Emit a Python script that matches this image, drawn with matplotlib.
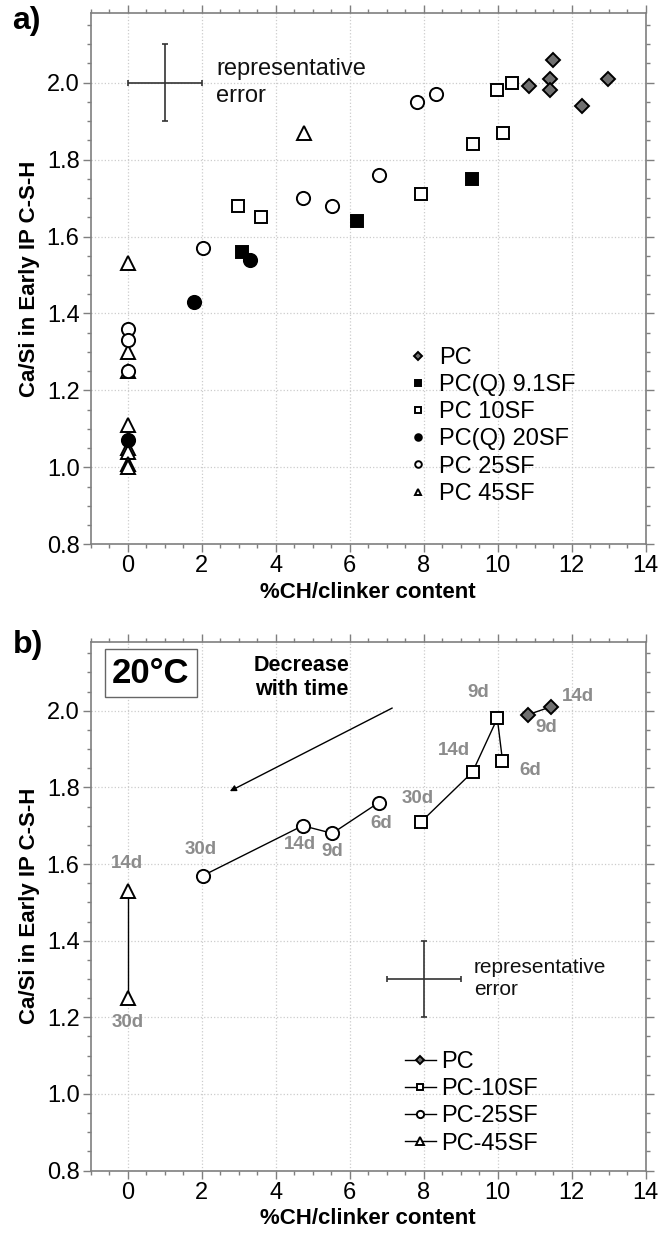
import matplotlib
matplotlib.use("Agg")
import matplotlib.pyplot as plt
from matplotlib.ticker import MultipleLocator, FormatStrFormatter

plt.rcParams['font.family'] = ['Liberation Sans', 'DejaVu Sans']

# ==== panel a data: %CH/clinker vs Ca/Si
pc_x = [11.49, 11.41, 11.41, 10.84, 12.29, 12.98]
pc_y = [2.06, 2.01, 1.98, 1.99, 1.94, 2.01]
pcq91_x = [3.10, 6.19, 9.30]
pcq91_y = [1.56, 1.64, 1.75]
pc10_x = [2.99, 3.59, 7.93, 9.34, 10.14, 9.98, 10.38]
pc10_y = [1.68, 1.65, 1.71, 1.84, 1.87, 1.98, 2.00]
pcq20_x = [0.0, 1.80, 3.31]
pcq20_y = [1.07, 1.43, 1.54]
pc25_x = [0.0, 0.0, 0.0, 2.04, 4.73, 5.53, 6.79, 7.82, 8.33]
pc25_y = [1.36, 1.33, 1.25, 1.57, 1.70, 1.68, 1.76, 1.95, 1.97]
pc45_x = [0.0, 0.0, 0.0, 0.0, 0.0, 0.0, 0.0, 0.0, 4.77]
pc45_y = [1.53, 1.30, 1.25, 1.11, 1.05, 1.04, 1.01, 1.00, 1.87]

# ==== panel b data: 20C time series
b_pc_x = [11.43, 10.83]
b_pc_y = [2.01, 1.99]
b_pc_lab = ["14d", "9d"]
b_pc10_x = [10.13, 9.99, 9.32, 7.93]
b_pc10_y = [1.87, 1.98, 1.84, 1.71]
b_pc10_lab = ["6d", "9d", "14d", "30d"]
b_pc25_x = [6.78, 5.53, 4.73, 2.04]
b_pc25_y = [1.76, 1.68, 1.70, 1.57]
b_pc25_lab = ["6d", "9d", "14d", "30d"]
b_pc45_x = [0.0, 0.0]
b_pc45_y = [1.53, 1.25]
b_pc45_lab = ["14d", "30d"]

# representative error bars (center x, center y, err x, err y)
err_a = (1.0, 2.0, 1.0, 0.1)
err_b = (8.0, 1.3, 1.0, 0.1)

# label offsets in pixels (dx, dy) for the day annotations
off_pc = [(27, 10), (18, -13)]
off_pc10 = [(28, -10), (-19, 26), (-19, 22), (-3, 23)]
off_pc25 = [(3, -21), (0, -18), (-3, -19), (-2, 26)]
off_pc45 = [(-1, 27), (0, -24)]

spine_col = "#7f7f7f"
day_col = "#8c8c8c"
grey_face = "#707070"


def style_axes(ax):
    ax.set_xlim(-1, 14)
    ax.set_ylim(0.8, 2.18)
    ax.xaxis.set_major_locator(MultipleLocator(2))
    ax.xaxis.set_minor_locator(MultipleLocator(0.5))
    ax.yaxis.set_major_locator(MultipleLocator(0.2))
    ax.yaxis.set_minor_locator(MultipleLocator(0.05))
    ax.yaxis.set_major_formatter(FormatStrFormatter("%.1f"))
    ax.tick_params(which="both", direction="out", top=True, right=True,
                   color=spine_col, labelsize=17, pad=2.5)
    ax.tick_params(which="major", length=5.5, width=1)
    ax.tick_params(which="minor", length=3, width=1)
    for s in ax.spines.values():
        s.set_color(spine_col)
        s.set_linewidth(1.2)
    ax.grid(True, which="major", color="#cccccc", linestyle=":", linewidth=0.9)
    ax.set_axisbelow(True)
    ax.set_xlabel("%CH/clinker content", fontsize=16, fontweight="bold", labelpad=3)
    ax.set_ylabel("Ca/Si in Early IP C-S-H", fontsize=16, fontweight="bold", labelpad=5)


def rep_error(ax, e, tx, fs, ls):
    ax.errorbar([e[0]], [e[1]], xerr=[e[2]], yerr=[e[3]], fmt="none",
                ecolor="#333333", elinewidth=1.2, capsize=2.5, capthick=1.2)
    ax.text(tx, e[1], "representative\nerror", fontsize=fs, va="center",
            ha="left", linespacing=ls, color="#111111")


fig = plt.figure(figsize=(6.59, 12.36), dpi=100)
ax_a = fig.add_axes([0.1376, 0.5596, 0.8422, 0.4296])
ax_b = fig.add_axes([0.1376, 0.0529, 0.8422, 0.4279])

# ======== panel a
mk = dict(linestyle="none", markeredgecolor="black", markeredgewidth=1.4)
ax_a.plot(pc45_x, pc45_y, marker="^", ms=10, markerfacecolor="white", label="PC 45SF", zorder=3, **mk)
ax_a.plot(pc25_x, pc25_y, marker="o", ms=9.5, markerfacecolor="white", label="PC 25SF", zorder=3, **mk)
ax_a.plot(pcq20_x, pcq20_y, marker="o", ms=9.5, markerfacecolor="black", label="PC(Q) 20SF", zorder=4, **mk)
ax_a.plot(pc10_x, pc10_y, marker="s", ms=8.5, markerfacecolor="white", label="PC 10SF", zorder=3, **mk)
ax_a.plot(pcq91_x, pcq91_y, marker="s", ms=8.5, markerfacecolor="black", label="PC(Q) 9.1SF", zorder=3, **mk)
ax_a.plot(pc_x, pc_y, marker="D", ms=7.5, markerfacecolor=grey_face, label="PC", zorder=3, **mk)

style_axes(ax_a)
rep_error(ax_a, err_a, 2.4, 17, 1.25)

h, l = ax_a.get_legend_handles_labels()
ax_a.legend(h[::-1], l[::-1], loc="upper left", bbox_to_anchor=(0.568, 0.372),
            frameon=False, fontsize=17, markerscale=0.5, handlelength=1.0,
            handletextpad=0.4, labelspacing=0.22, borderpad=0, borderaxespad=0)

# ======== panel b
lk = dict(color="black", linewidth=1.0, markeredgecolor="black", markeredgewidth=1.4)
series_b = [
    (b_pc_x, b_pc_y, b_pc_lab, off_pc, "D", 7.5, grey_face, "PC"),
    (b_pc10_x, b_pc10_y, b_pc10_lab, off_pc10, "s", 8.5, "white", "PC-10SF"),
    (b_pc25_x, b_pc25_y, b_pc25_lab, off_pc25, "o", 9.5, "white", "PC-25SF"),
    (b_pc45_x, b_pc45_y, b_pc45_lab, off_pc45, "^", 10, "white", "PC-45SF"),
]
for xs, ys, labs, offs, m, ms, fc, name in series_b:
    ax_b.plot(xs, ys, marker=m, ms=ms, markerfacecolor=fc, label=name, zorder=3, **lk)
    for xx, yy, tt, oo in zip(xs, ys, labs, offs):
        ax_b.annotate(tt, (xx, yy), xytext=oo, textcoords="offset pixels",
                      ha="center", va="center", fontsize=13.5, fontweight="bold",
                      color=day_col)

style_axes(ax_b)
rep_error(ax_b, err_b, 9.35, 15, 1.2)

ax_b.annotate("", xy=(2.76, 1.79), xytext=(7.15, 2.007),
              arrowprops=dict(arrowstyle="-|>", color="black", lw=1.0,
                              mutation_scale=9, shrinkA=0, shrinkB=0))
ax_b.text(4.71, 2.087, "Decrease\nwith time", fontsize=15.5, fontweight="bold",
          ha="center", va="center", linespacing=1.2)
ax_b.text(0.63, 2.098, "20°C", fontsize=25, fontweight="bold", ha="center", va="center",
          bbox=dict(boxstyle="square,pad=0.22", facecolor="white", edgecolor="#666666",
                    linewidth=1.0))

ax_b.legend(loc="upper left", bbox_to_anchor=(0.566, 0.226), frameon=False,
            fontsize=17, markerscale=0.55, handlelength=1.3, handletextpad=0.25,
            labelspacing=0.22, borderpad=0, borderaxespad=0)

fig.text(12 / 659, 1 - 6 / 1236, "a)", fontsize=23, fontweight="bold", va="top", ha="left")
fig.text(13 / 659, 1 - 630 / 1236, "b)", fontsize=23, fontweight="bold", va="top", ha="left")

fig.savefig("out.png", dpi=100)
